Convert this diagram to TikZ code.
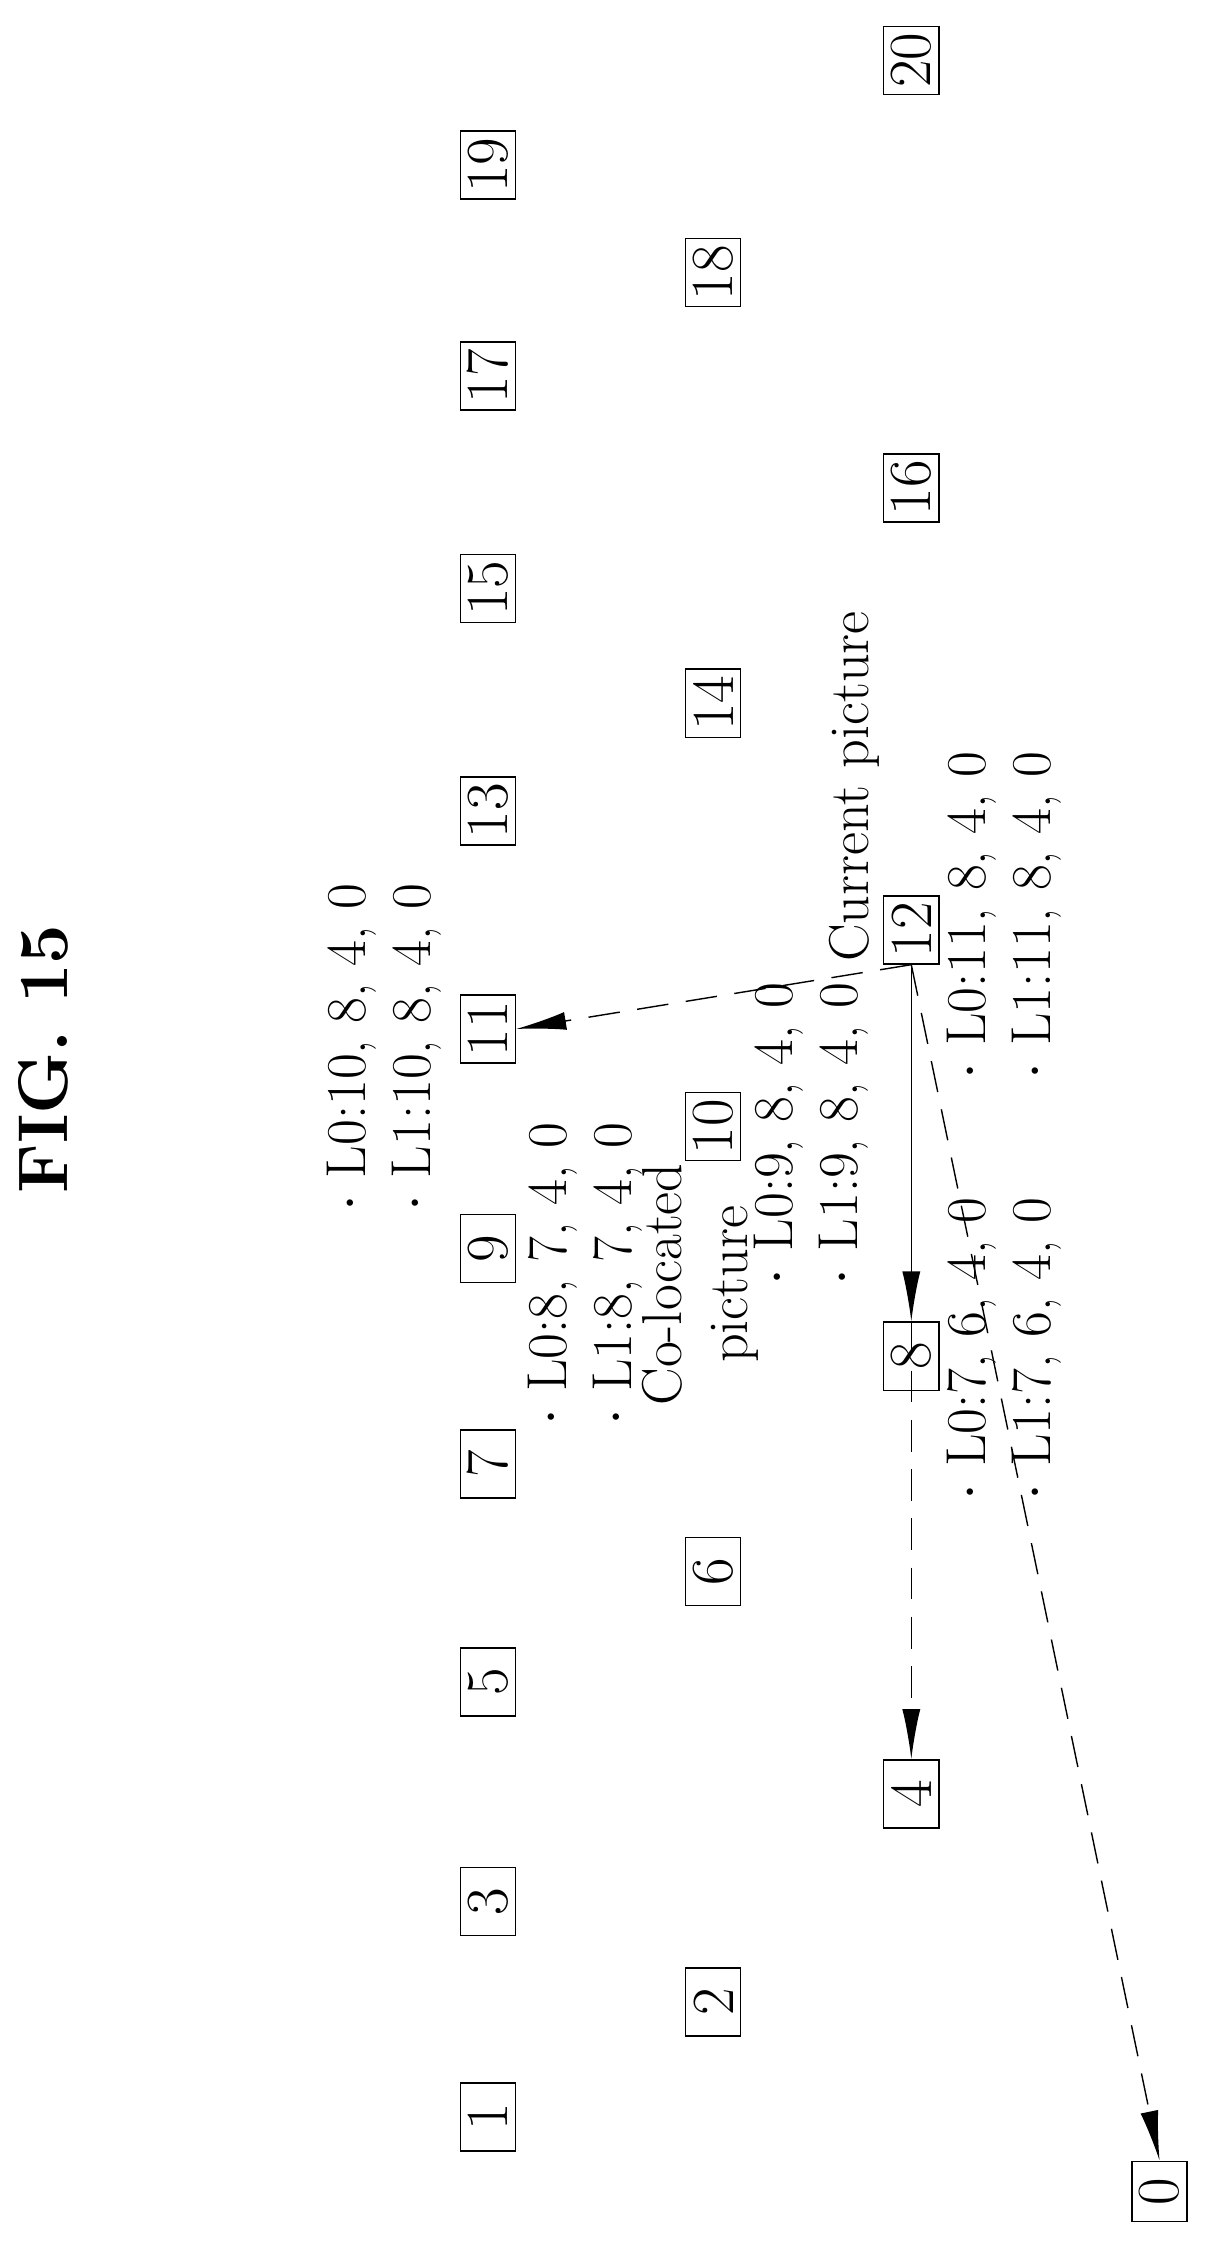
\documentclass[tikz,border=0pt]{standalone}
\usetikzlibrary{arrows.meta}

\begin{document}
\begin{tikzpicture}[x=0.01435cm, y=-0.01435cm,
        pic/.style={rectangle, draw=black, rotate=90, inner sep=0pt, minimum width=0.68cm, minimum height=0.55cm, font=\fontsize{17}{18}\selectfont},
        note/.style={rotate=90, align=left, inner sep=0pt, font=\fontsize{16}{18.5}\selectfont},
        line/.style={-{Latex[length=0.5cm, width=0.18cm]}, thin},
        dline/.style={line, dash pattern=on 9pt off 5pt}
    ]
    \useasboundingbox (0,0) rectangle (845,1572);
    \node[rotate=90, font=\fontsize{20}{22}\selectfont\bfseries] (fig) at (30,738) {FIG. 15};
    % pictures
    \foreach \n/\y in {1/1475, 3/1325, 5/1172, 7/1020, 9/870, 11/717, 13/565, 15/410, 17/262, 19/115}
        \node[pic] (p\n) at (340,\y) {\n};
    \foreach \n/\y in {2/1395, 6/1095, 10/785, 14/490, 18/190}
        \node[pic] (p\n) at (497,\y) {\n};
    \foreach \n/\y in {4/1250, 8/945, 12/648, 16/340, 20/42}
        \node[pic] (p\n) at (635,\y) {\n};
    \node[pic, minimum width=0.6cm] (p0) at (808,1527) {0};
    % labels
    \node[note] (n11) at (268,730) {$\cdot$ L0:10, 8, 4, 0\\$\cdot$ L1:10, 8, 4, 0};
    \node[note] (n9) at (408,888) {$\cdot$ L0:8, 7, 4, 0\\$\cdot$ L1:8, 7, 4, 0};
    \node[note, align=center] (col) at (488,895) {Co-located\\picture};
    \node[note] (n10) at (565,790) {$\cdot$ L0:9, 8, 4, 0\\$\cdot$ L1:9, 8, 4, 0};
    \node[note] (cur) at (595,548) {Current picture};
    \node[note] (n12) at (700,638) {$\cdot$ L0:11, 8, 4, 0\\$\cdot$ L1:11, 8, 4, 0};
    \node[note] (n8) at (700,940) {$\cdot$ L0:7, 6, 4, 0\\$\cdot$ L1:7, 6, 4, 0};
    % references
    \draw[dline] (p12.west) -- (p11.south);
    \draw[line] (p12.west) -- (p8.east);
    \draw[dline] (p8.east) -- (p4.east);
    \draw[dline] (p12.west) -- (p0.east);
\end{tikzpicture}
\end{document}
